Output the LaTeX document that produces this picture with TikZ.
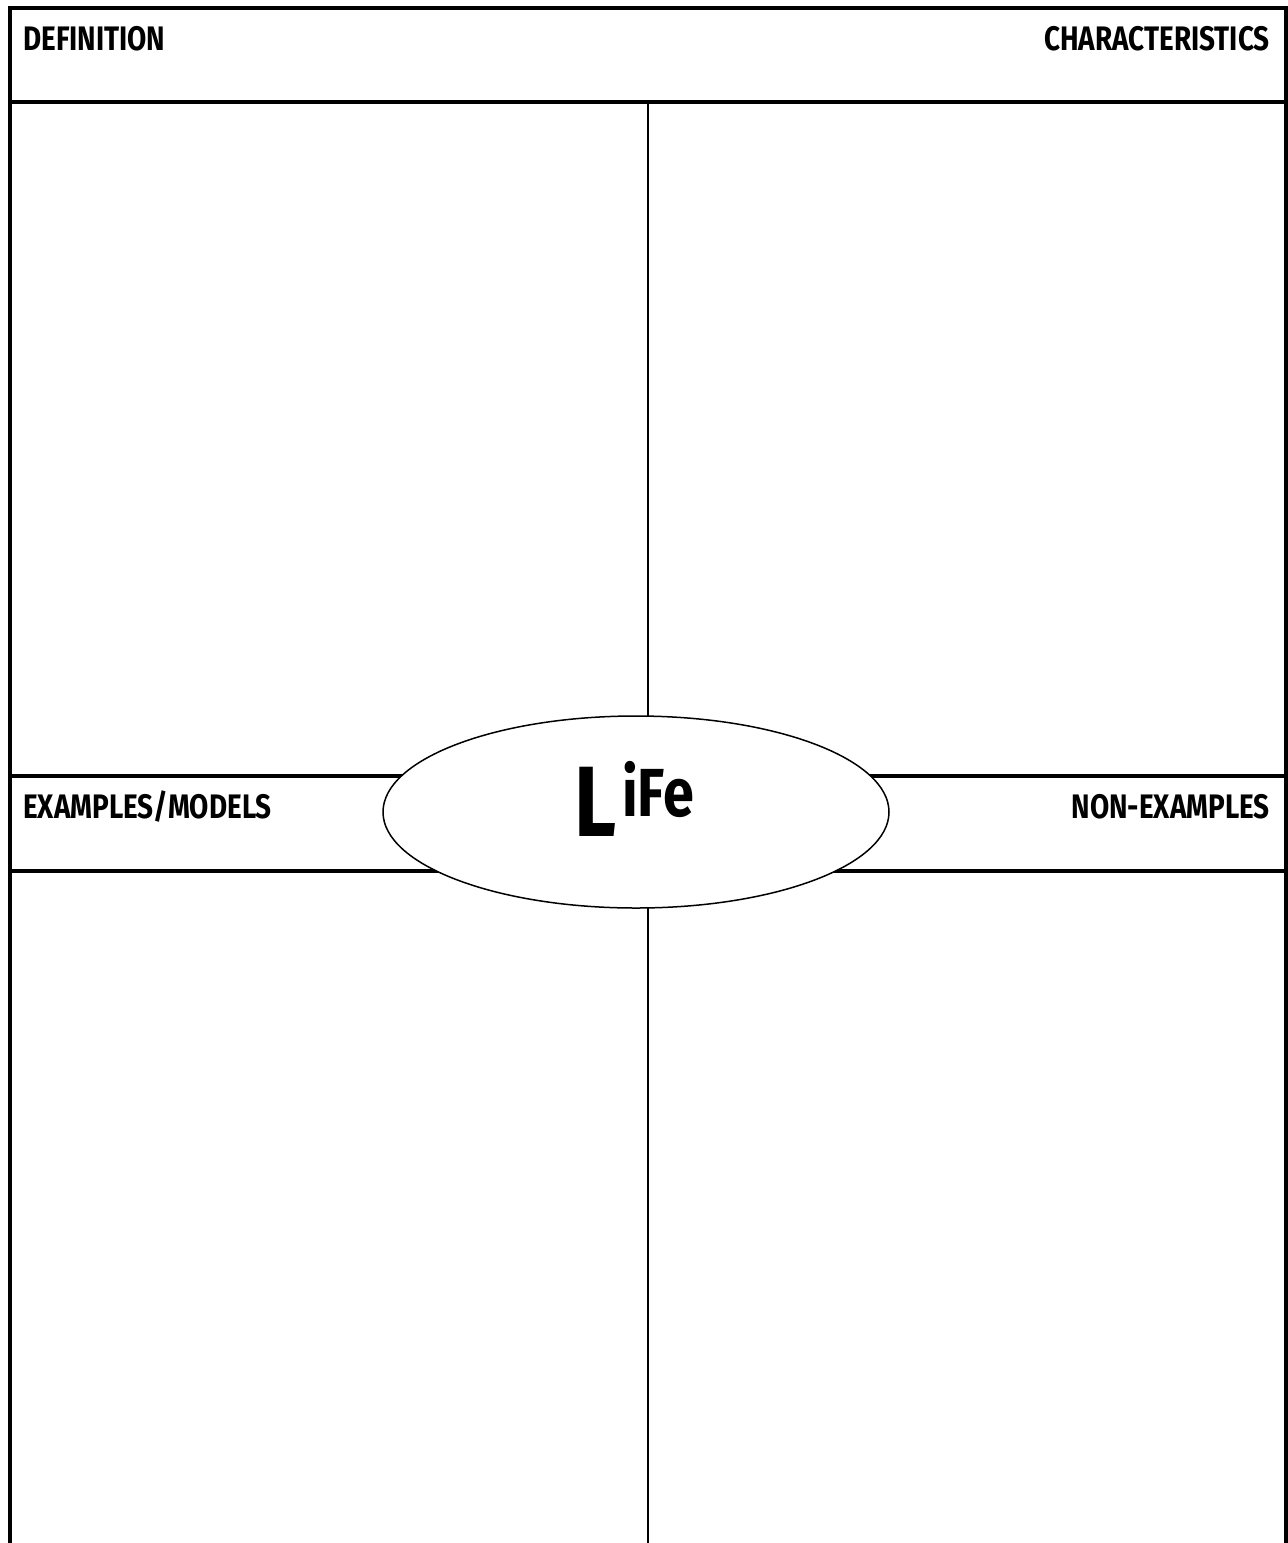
\documentclass[tikz,border=0pt]{standalone}
\usepackage{fontspec}
\usepackage{tikz}
\usetikzlibrary{shapes.geometric,positioning,calc}
\newfontfamily\framefont[FakeStretch=0.82]{Fira Sans Bold}
\tikzset{
    frameline/.style={line width=4pt, line cap=rect},
    midline/.style={line width=2pt},
    framelabel/.style={font=\framefont\fontsize{34}{34}\selectfont, inner sep=0pt},
    frameoval/.style={ellipse, draw, fill=white, line width=1.5pt, minimum width=506pt, minimum height=192pt, inner sep=0pt}
}
\begin{document}
\begin{tikzpicture}[x=1pt, y=-1pt]
        \useasboundingbox (0,0) rectangle (1288,1543);
        % outer frame and rows
        \draw[frameline] (10,1543) -- (10,8) -- (1286,8) -- (1286,1543);
        \draw[frameline] (10,102) -- (1286,102);
        \draw[frameline] (10,775.5) -- (1286,775.5);
        \draw[frameline] (10,870.5) -- (1286,870.5);
        \draw[midline] (648,104) -- (648,1543);

        % labels
        \node[framelabel, anchor=base west] (definition) at (23,50) {DEFINITION};
        \node[framelabel, anchor=base east] (characteristics) at (1270,50) {CHARACTERISTICS};
        \node[framelabel, anchor=base west] (examples) at (23,818) {EXAMPLES/MODELS};
        \node[framelabel, anchor=base east] (nonexamples) at (1270,818) {NON-EXAMPLES};

        % centre word
        \node[frameoval] (life) at (636,812) {};
        \node[inner sep=0pt, anchor=base] (word) at (634,836) {\framefont\fontsize{100}{100}\selectfont L\hspace{6pt}\raisebox{20pt}{\fontsize{68}{68}\selectfont iFe}};
    \end{tikzpicture}
\end{document}
